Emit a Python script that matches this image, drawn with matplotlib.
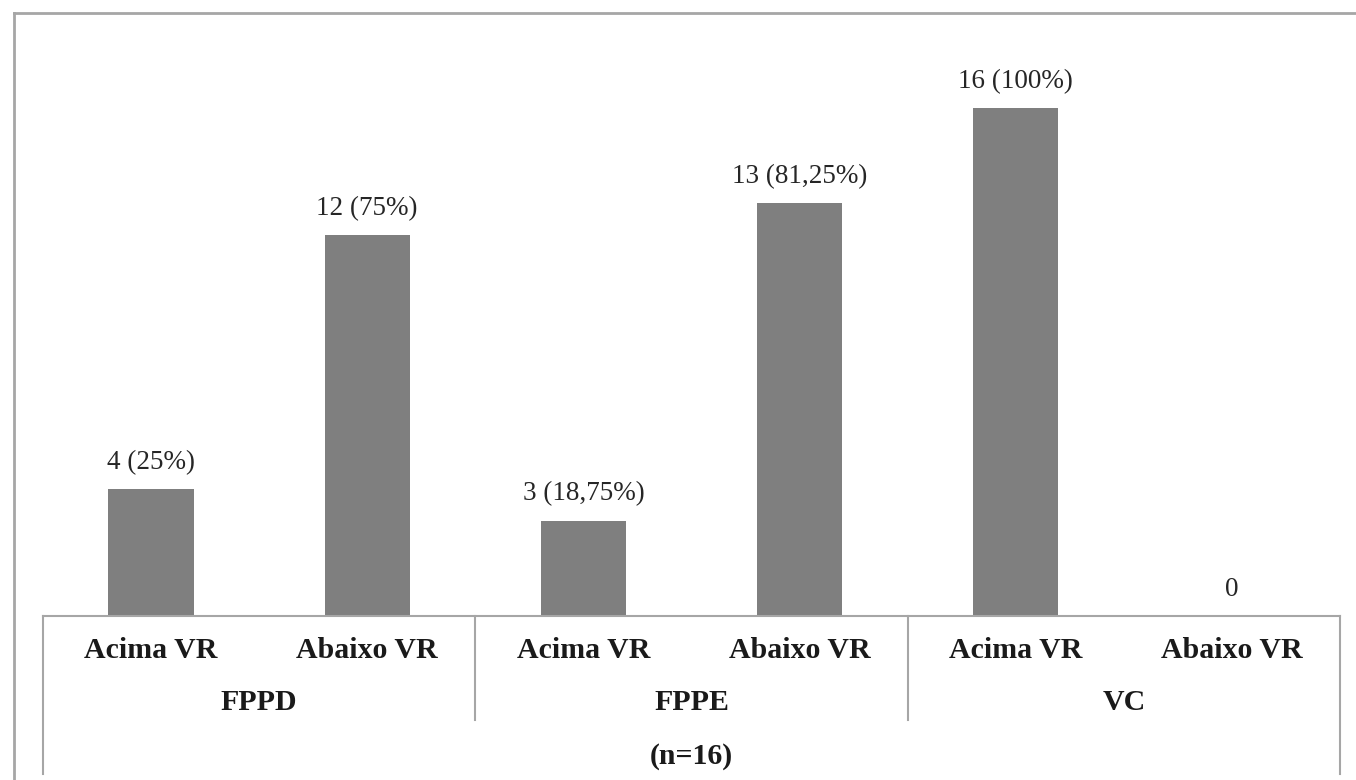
import matplotlib
matplotlib.use("Agg")
import matplotlib.pyplot as plt
import matplotlib.transforms as mtransforms

groups = ["FPPD", "FPPE", "VC"]
subcats = ["Acima VR", "Abaixo VR"]
values = [4, 12, 3, 13, 16, 0]
value_labels = ["4 (25%)", "12 (75%)", "3 (18,75%)", "13 (81,25%)", "16 (100%)", "0"]
bottom_label = "(n=16)"

W, H = 1356, 780
fig = plt.figure(figsize=(W / 100, H / 100), dpi=100)
fig.patch.set_facecolor("white")

ax_left, ax_right = 43, 1340
ax_bottom, ax_top = 616, 44.5
ax = fig.add_axes([ax_left / W, 1 - ax_bottom / H,
                   (ax_right - ax_left) / W, (ax_bottom - ax_top) / H])

serif = ["Liberation Serif", "DejaVu Serif"]
line_col = "#a6a6a6"
bar_col = "#7f7f7f"

n = len(values)
xs = list(range(n))
ax.bar(xs, values, width=0.395, color=bar_col, edgecolor="none", zorder=2)
ax.set_xlim(-0.5, n - 0.5)
ax.set_ylim(0, 18)
for s in ax.spines.values():
    s.set_visible(False)
ax.set_xticks([])
ax.set_yticks([])

for x, v, lab in zip(xs, values, value_labels):
    ax.annotate(lab, (x, v), xytext=(0, 14.5), textcoords="offset points",
                ha="center", va="baseline", fontsize=19.5, family=serif,
                color="#262626")

trans = mtransforms.blended_transform_factory(ax.transData, ax.transAxes)
# baseline
ax.plot([-0.5, n - 0.5], [0, 0], transform=trans, color=line_col, lw=1.5,
        clip_on=False, zorder=3)
axh = ax_bottom - ax_top
def yfrac(py):
    return (ax_bottom - py) / axh

# separators
ng = len(groups)
per = len(subcats)
for i in range(ng + 1):
    xb = -0.5 + i * per
    yend = yfrac(774) if i in (0, ng) else yfrac(720)
    ax.plot([xb, xb], [0, yend], transform=trans, color=line_col, lw=1.5,
            clip_on=False)

fs_lab = 21.5
for x in xs:
    ax.text(x, yfrac(651), subcats[x % per], transform=trans, ha="center",
            va="center", fontsize=fs_lab, fontweight="bold", family=serif,
            color="#1a1a1a")
for g, name in enumerate(groups):
    ax.text(g * per + (per - 1) / 2, yfrac(703), name, transform=trans,
            ha="center", va="center", fontsize=fs_lab, fontweight="bold",
            family=serif, color="#1a1a1a")
ax.text((n - 1) / 2, yfrac(757), bottom_label, transform=trans, ha="center",
        va="center", fontsize=fs_lab, fontweight="bold", family=serif,
        color="#1a1a1a")

# outer frame (top and left edges)
fig.add_artist(plt.Line2D([14 / W, 1.0], [1 - 13 / H, 1 - 13 / H],
                          transform=fig.transFigure, color=line_col, lw=2))
fig.add_artist(plt.Line2D([14 / W, 14 / W], [1 - 13 / H, 0],
                          transform=fig.transFigure, color=line_col, lw=2))

fig.savefig("out.png", dpi=100)
